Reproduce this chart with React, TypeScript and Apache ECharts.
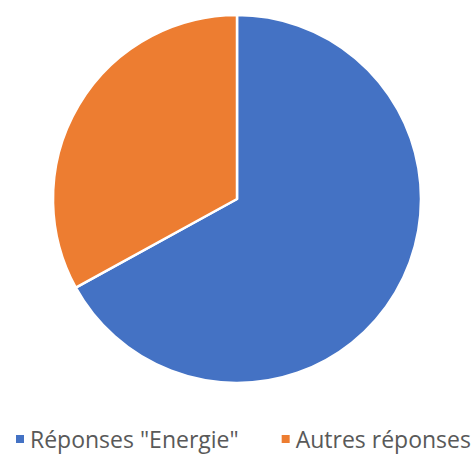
import React, { useEffect, useRef } from "react";
import * as echarts from "echarts";

const categories = ['Réponses "Energie"', "Autres réponses"];
const values = [67, 33];
const colors = ["#4472C4", "#ED7D31"];

export default function App() {
  const ref = useRef<HTMLDivElement>(null);
  useEffect(() => {
    document.body.style.margin = "0";
    const chart = echarts.init(ref.current!, null, { renderer: "svg" });
    chart.setOption({
      animation: false,
      backgroundColor: "#ffffff",
      color: colors,
      legend: {
        data: categories,
        left: 14,
        top: 427,
        padding: 0,
        icon: "rect",
        itemWidth: 10,
        itemHeight: 10,
        itemGap: 41,
        textStyle: {
          color: "#595959",
          fontSize: 23,
          lineHeight: 24,
          fontFamily: "Open Sans",
        },
      },
      series: [
        {
          type: "pie",
          center: [237, 199],
          radius: 184,
          startAngle: 90,
          clockwise: true,
          label: { show: false },
          labelLine: { show: false },
          itemStyle: { borderColor: "#ffffff", borderWidth: 2.5 },
          emphasis: { disabled: true },
          data: categories.map((name, i) => ({ name, value: values[i] })),
        },
      ],
    });
    return () => chart.dispose();
  }, []);
  return <div ref={ref} style={{ width: 476, height: 454 }} />;
}
